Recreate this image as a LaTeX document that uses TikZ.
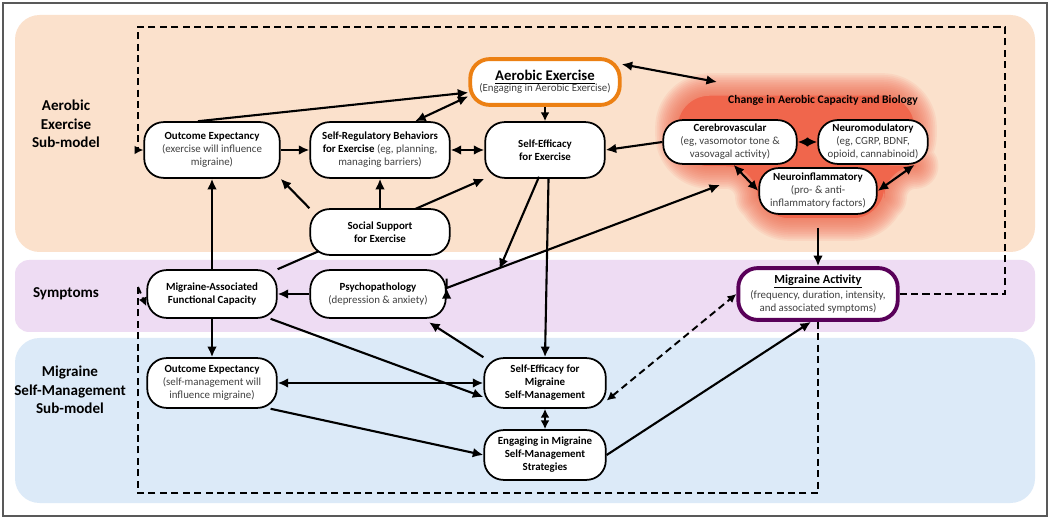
\documentclass[tikz,border=0pt]{standalone}
\usepackage{fontspec}
\setmainfont{Carlito}
\usetikzlibrary{arrows.meta}
\definecolor{bandO}{HTML}{FBE1CC}
\definecolor{bandP}{HTML}{EEDCF3}
\definecolor{bandB}{HTML}{DCEAF8}
\definecolor{blobC}{HTML}{F0664C}
\definecolor{txtg}{HTML}{404040}
\def\pxu{0.567pt}
\begin{document}
\begin{tikzpicture}[x=0.02cm,y=-0.02cm,
  box/.style n args={2}{draw=black,line width=1pt,fill=white,rounded corners=11pt,align=center,
     minimum width=#1*\pxu,minimum height=#2*\pxu,inner sep=1pt,font=\fontsize{6.2}{7.4}\selectfont},
  sub/.style={text=txtg},
  side/.style={font=\fontsize{8.6}{10.4}\selectfont\bfseries,align=center},
  ar/.style={line width=1.2pt,-{Latex[length=6pt,width=5.5pt]}},
  dar/.style={line width=1.2pt,{Latex[length=6pt,width=5.5pt]}-{Latex[length=6pt,width=5.5pt]}},
  da/.style={line width=1.1pt,dash pattern=on 4pt off 2.5pt,-{Latex[length=5pt,width=5pt]}},
  dda/.style={line width=1.1pt,dash pattern=on 4pt off 2.5pt,{Latex[length=5pt,width=5pt]}-{Latex[length=5pt,width=5pt]}},
  dl/.style={line width=1.1pt,dash pattern=on 4pt off 2.5pt}]
\useasboundingbox (0,0) rectangle (1050,519);
\fill[white] (0,0) rectangle (1050,519);
\draw[gray!70!black,line width=1.2pt] (3,3) rectangle (1047,516);
% bands
\fill[bandO,rounded corners=14pt] (15,15) rectangle (1035,252);
\fill[bandP,rounded corners=8pt] (15,260) rectangle (1035,332);
\fill[bandB,rounded corners=14pt] (15,338) rectangle (1035,503);
% blob glow
\foreach \w in {26,24,...,2}{
 \fill[blobC,opacity=0.09,line width=\w pt,draw=blobC,rounded corners=18pt,line join=round]
  (678,96) -- (914,96) -- (914,166) -- (884,166) -- (884,218) -- (758,218) -- (758,166) -- (678,166) -- cycle;}
\fill[blobC,rounded corners=18pt]
  (678,96) -- (914,96) -- (914,166) -- (884,166) -- (884,218) -- (758,218) -- (758,166) -- (678,166) -- cycle;
\node[font=\fontsize{6.6}{8}\selectfont\bfseries] (ctitle) at (823,100) {Change in Aerobic Capacity and Biology};
% side labels
\node[side] (l1) at (66,124) {Aerobic\\Exercise\\Sub-model};
\node[side] (l2) at (66,294) {Symptoms};
\node[side] (l3) at (70,390) {Migraine\\Self-Management\\Sub-model};
% dashed loops
\coordinate (t1) at (1005,294); \coordinate (t2) at (1005,27); \coordinate (t3) at (138,27); \coordinate (t4) at (138,150);
\coordinate (b1) at (818,493); \coordinate (b2) at (138,493); \coordinate (b3) at (138,287);
% long edge behind social support
\node[box={130}{48}] (mafc) at (212,294) {\textbf{Migraine-Associated}\\\textbf{Functional Capacity}};
\node[box={120}{56}] (see) at (545,150) {\textbf{Self-Efficacy}\\\textbf{for Exercise}};
\draw[ar] (mafc.north east) -- (see.south west);
% nodes
\node[box={150}{46},draw=orange!70!brown,line width=2.2pt] (ae) at (545,82) {\fontsize{8.4}{10}\selectfont\bfseries\underline{Aerobic Exercise}\\[-1pt]\textnormal{\textcolor{txtg}{(Engaging in Aerobic Exercise)}}};
\node[box={136}{56}] (oe1) at (212,150) {\textbf{Outcome Expectancy}\\\textcolor{txtg}{(exercise will influence}\\\textcolor{txtg}{migraine)}};
\node[box={140}{56}] (srb) at (380,150) {\textbf{Self-Regulatory Behaviors}\\\textbf{for Exercise} \textcolor{txtg}{(eg, planning,}\\\textcolor{txtg}{managing barriers)}};
\node[box={140}{46}] (ss) at (380,232) {\textbf{Social Support}\\\textbf{for Exercise}};
\node[box={134}{44}] (cer) at (730,142) {\textbf{Cerebrovascular}\\\textcolor{txtg}{(eg, vasomotor tone \&}\\\textcolor{txtg}{vasovagal activity)}};
\node[box={110}{44}] (neu) at (873,142) {\textbf{Neuromodulatory}\\\textcolor{txtg}{(eg, CGRP, BDNF,}\\\textcolor{txtg}{opioid, cannabinoid)}};
\node[box={118}{46}] (nin) at (818,191) {\textbf{Neuroinflammatory}\\\textcolor{txtg}{(pro- \& anti-}\\\textcolor{txtg}{inflammatory factors)}};
\node[box={136}{48}] (psy) at (378,294) {\textbf{Psychopathology}\\\textcolor{txtg}{(depression \& anxiety)}};
\node[box={160}{52},draw=violet!70!black,line width=2.2pt] (ma) at (818,294) {\fontsize{7}{8.4}\selectfont\bfseries\underline{Migraine Activity}\\\textcolor{txtg}{(frequency, duration, intensity,}\\\textcolor{txtg}{and associated symptoms)}};
\node[box={130}{50}] (oe2) at (212,383) {\textbf{Outcome Expectancy}\\\textcolor{txtg}{(self-management will}\\\textcolor{txtg}{influence migraine)}};
\node[box={122}{50}] (sem) at (545,383) {\textbf{Self-Efficacy for}\\\textbf{Migraine}\\\textbf{Self-Management}};
\node[box={122}{50}] (ems) at (545,455) {\textbf{Engaging in Migraine}\\\textbf{Self-Management}\\\textbf{Strategies}};
% blob coordinates
\coordinate (blobT) at (717,82);
\coordinate (blobL) at (720,185);
\coordinate (blobB) at (818,228);
% edges
\draw[ar] ([xshift=-8]oe1.north) -- ([yshift=-6]ae.west);
\draw[dar] ([xshift=20]srb.north) -- ([yshift=6]ae.south west);
\draw[da] (ae.south) -- (see.north);
\draw[dar] ([yshift=-4]ae.north east) -- (blobT);
\draw[ar] (oe1) -- (srb);
\draw[dar] (srb) -- (see);
\draw[ar] (cer.west) -- (see.east);
\draw[dar] (cer) -- (neu);
\draw[dar] ([xshift=2pt]cer.south) -- (nin.west);
\draw[dar] ([xshift=-8]neu.south east) -- (nin.east);
\draw[ar] (ss.north west) -- (oe1.south east);
\draw[ar] (ss.north) -- (srb.south);
\draw[ar] (mafc.north) -- (oe1.south);
\draw[ar] ([xshift=2]see.south) -- (sem.north);
\draw[ar] (see.south) ++(-6,-2) coordinate (s1) -- (s1) -- ([xshift=30]psy.north east);
\draw[dar] (psy.east) ++(0,-6) coordinate (p1) -- (p1) -- (blobL);
\draw[ar] (psy) -- (mafc);
\draw[ar] (sem.north west) -- ([xshift=-10,yshift=-2]psy.south east);
\draw[ar] ([xshift=-4]mafc.south east) -- ([yshift=-8]sem.west);
\draw[ar] (mafc) -- (oe2);
\draw[dar] (oe2) -- (sem);
\draw[ar] ([xshift=-4]oe2.south east) -- (ems.west);
\draw[dda] (sem) -- (ems);
\draw[ar] (ems.east) -- ([xshift=-4]ma.south);
\draw[dda] ([yshift=-10]sem.east) -- (ma.west);
\draw[ar] (blobB) -- (ma.north);
\draw[dl] (ma.east) -- (t1) -- (t2) -- (t3) -- (t4);
\draw[da] (t4) -- (oe1.west);
\draw[dl] (ma.south) -- (b1) -- (b2) -- (b3);
\draw[da] (b3) -- ([yshift=-7]mafc.west);
\end{tikzpicture}
\end{document}
